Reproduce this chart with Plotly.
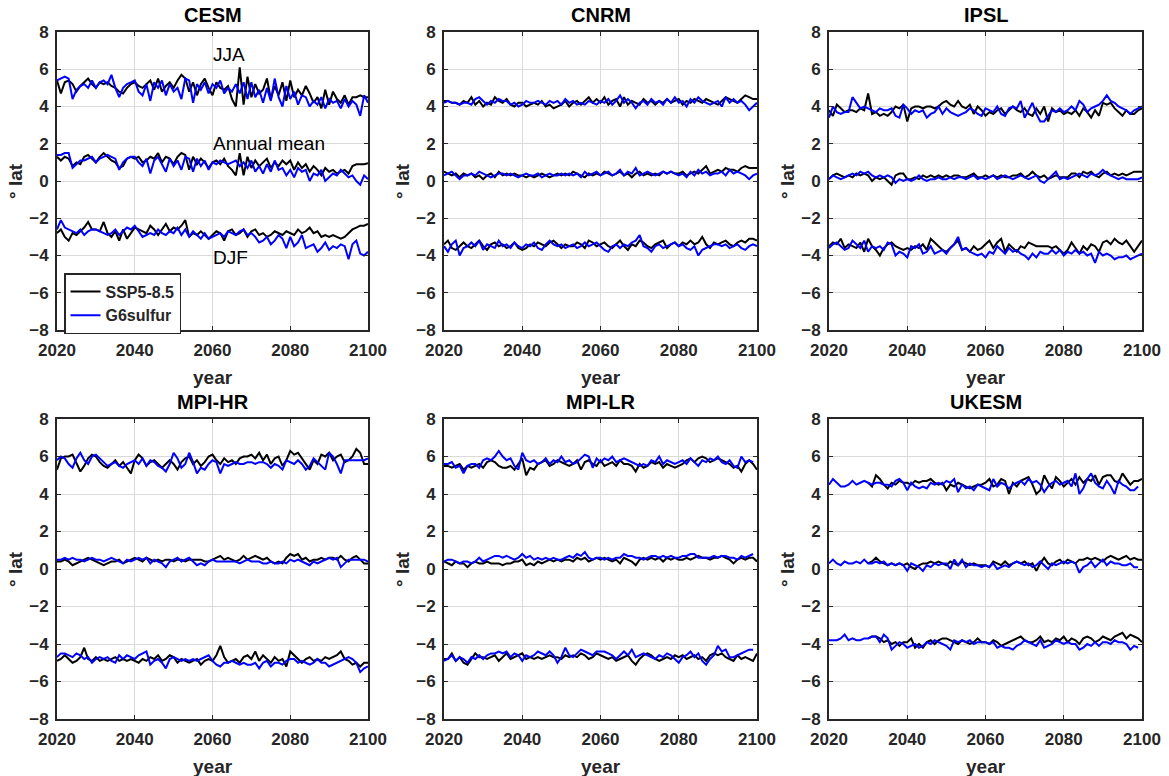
import plotly.graph_objects as go

# ---------------- data ----------------
years = list(range(2020, 2101))
years_ukesm_ssp = list(range(2030, 2101))
models = ["CESM", "CNRM", "IPSL", "MPI-HR", "MPI-LR", "UKESM"]
scenario_names = ["SSP5-8.5", "G6sulfur"]
season_labels = ["JJA", "Annual mean", "DJF"]
xtick_vals = [2020, 2040, 2060, 2080, 2100]
ytick_vals = [-8, -6, -4, -2, 0, 2, 4, 6, 8]

# CESM
cesm_jja_ssp = [5.4, 4.7, 5.3, 5.4, 5.2, 4.8, 5.1, 5.3, 5.5, 5.2,
                5.0, 5.3, 5.2, 5.3, 5.1, 5.0, 4.8, 4.7, 5.0, 5.2,
                5.3, 5.1, 5.0, 5.2, 5.4, 4.9, 5.5, 4.8, 5.1, 5.3,
                5.0, 5.4, 5.7, 5.5, 4.8, 5.3, 4.6, 5.2, 5.5, 5.0,
                4.6, 5.3, 5.0, 4.9, 5.1, 4.4, 4.0, 6.1, 4.1, 5.6,
                4.5, 5.2, 4.7, 4.9, 5.5, 4.4, 5.1, 4.6, 5.3, 4.3,
                5.4, 4.5, 4.9, 4.6, 5.1, 4.7, 4.2, 4.5, 3.9, 4.9,
                4.1, 4.8, 4.4, 4.2, 4.6, 4.1, 4.5, 4.5, 4.6, 4.5, 4.5]
cesm_jja_g6 = [5.4, 5.5, 5.6, 5.5, 4.4, 4.9, 5.1, 5.2, 5.0, 5.4,
               5.0, 5.3, 5.4, 5.2, 5.7, 5.0, 4.5, 5.0, 5.2, 5.3,
               5.4, 4.8, 4.6, 5.2, 4.3, 5.3, 5.0, 5.4, 4.6, 5.2,
               4.8, 5.0, 4.4, 5.5, 5.4, 4.2, 5.2, 4.9, 5.3, 4.7,
               5.2, 5.0, 5.4, 4.7, 5.0, 4.8, 5.2, 4.7, 5.3, 4.4,
               5.3, 4.5, 4.9, 4.2, 5.0, 4.3, 5.5, 4.5, 4.0, 5.1,
               4.4, 4.8, 4.1, 4.6, 4.5, 4.0, 4.3, 4.1, 4.5, 3.9,
               4.4, 4.2, 4.3, 3.9, 4.4, 4.0, 4.3, 4.1, 3.5, 4.6, 4.2]
cesm_ann_ssp = [1.3, 1.1, 1.3, 1.2, 0.8, 1.0, 0.9, 1.3, 1.4, 1.2,
                1.0, 1.3, 1.5, 1.3, 1.1, 1.0, 0.7, 0.8, 1.2, 1.3,
                1.2, 1.3, 1.0, 1.1, 1.3, 1.2, 1.5, 1.0, 1.3, 1.2,
                0.9, 1.3, 1.5, 1.4, 0.6, 1.3, 0.9, 1.2, 1.0, 0.7,
                1.0, 1.1, 0.9, 1.2, 0.8, 0.6, 0.3, 1.5, 0.3, 1.3,
                0.7, 1.1, 0.8, 1.0, 1.2, 0.7, 1.0, 0.8, 1.1, 0.9,
                1.1, 0.6, 1.0, 0.7, 0.9, 0.5, 0.8, 0.6, 0.3, 0.7,
                0.5, 0.6, 0.4, 0.5, 0.6, 0.4, 0.8, 0.9, 0.9, 0.9, 0.95]
cesm_ann_g6 = [1.4, 1.4, 1.5, 1.5, 0.7, 0.9, 1.1, 1.1, 1.2, 1.3,
               1.0, 1.2, 1.3, 1.4, 1.3, 1.2, 0.6, 1.0, 1.2, 1.3,
               1.3, 1.0, 0.8, 1.2, 0.4, 1.1, 1.3, 0.9, 0.5, 1.2,
               0.8, 1.1, 0.6, 1.3, 1.2, 0.5, 1.2, 0.8, 1.1, 0.6,
               1.0, 0.9, 1.1, 1.0, 0.9, 1.0, 1.1, 0.8, 1.0, 0.7,
               1.1, 0.5, 0.8, 0.4, 0.9, 0.5, 1.1, 0.6, 0.7, 0.3,
               0.6, 0.2, 0.7, 0.5, 0.6, 0.0, 0.4, 0.3, 0.6, 0.0,
               0.2, 0.4, 0.3, 0.6, 0.4, 0.2, 0.3, 0.0, -0.2, 0.3, 0.1]
cesm_djf_ssp = [-2.8, -2.6, -3.0, -3.2, -2.8, -2.9, -2.7, -2.5, -2.2, -2.6,
                -2.6, -2.7, -2.2, -2.8, -3.0, -2.7, -3.2, -2.6, -3.1, -2.8,
                -2.5, -2.6, -2.7, -2.8, -2.4, -2.6, -2.9, -2.6, -2.3, -2.7,
                -2.5, -2.6, -2.4, -2.1, -3.0, -2.8, -2.9, -2.7, -2.9, -3.1,
                -2.9, -2.7, -2.8, -3.2, -2.7, -2.6, -2.9, -2.8, -2.6, -3.0,
                -2.7, -2.6, -2.9, -2.8, -3.0, -2.9, -2.7, -2.8, -2.9, -2.7,
                -2.8, -2.9, -2.6, -2.8, -2.7, -2.5, -2.8, -2.7, -3.0, -2.9,
                -3.0, -2.9, -3.0, -3.1, -3.0, -2.8, -2.6, -2.5, -2.4, -2.4, -2.3]
cesm_djf_g6 = [-2.6, -2.1, -2.5, -2.6, -2.7, -2.8, -2.6, -2.9, -2.7, -2.6,
               -2.6, -2.7, -2.8, -2.9, -2.8, -2.6, -2.9, -2.7, -2.5, -2.6,
               -2.4, -2.7, -3.0, -2.9, -2.8, -2.9, -2.6, -2.8, -2.9, -2.7,
               -2.8, -2.5, -2.9, -2.6, -3.0, -2.7, -2.9, -3.1, -2.8, -3.1,
               -3.0, -2.9, -2.8, -3.0, -2.7, -2.8, -2.9, -2.7, -2.6, -2.9,
               -2.8, -3.0, -3.3, -3.2, -3.0, -3.4, -3.2, -2.9, -3.1, -3.6,
               -3.0, -3.5, -3.3, -2.9, -3.6, -3.5, -3.4, -3.8, -3.6, -3.3,
               -3.7, -3.5, -3.6, -3.4, -3.5, -4.2, -3.4, -3.2, -3.9, -4.0, -3.8]

# CNRM
cnrm_jja_ssp = [4.3, 4.3, 4.2, 4.2, 4.1, 4.3, 4.2, 4.5, 4.1, 4.3,
                4.0, 4.2, 4.1, 4.5, 4.3, 4.2, 4.4, 4.1, 4.0, 4.2,
                4.2, 4.0, 4.1, 4.2, 4.1, 4.3, 4.0, 4.1, 3.9, 4.0,
                4.1, 4.3, 4.0, 4.2, 4.3, 4.1, 4.3, 4.5, 4.2, 4.4,
                4.2, 4.5, 4.1, 4.3, 4.4, 4.0, 4.5, 4.1, 4.3, 4.2,
                4.1, 4.4, 4.2, 4.3, 4.1, 4.3, 4.2, 4.4, 4.2, 4.3,
                4.4, 4.1, 4.3, 4.2, 4.4, 4.3, 4.2, 4.4, 4.3, 4.2,
                4.1, 4.3, 4.5, 4.4, 4.3, 4.2, 4.4, 4.6, 4.5, 4.4, 4.4]
cnrm_jja_g6 = [4.2, 4.3, 4.2, 4.2, 4.1, 4.2, 4.2, 4.1, 4.4, 4.5,
               4.3, 4.1, 4.3, 4.2, 4.4, 4.3, 4.3, 4.1, 4.2, 4.0,
               4.1, 4.3, 4.2, 4.2, 4.3, 4.2, 4.1, 4.3, 4.2, 4.3,
               4.1, 4.4, 4.2, 4.3, 4.1, 4.2, 4.1, 4.3, 4.2, 4.1,
               4.3, 4.2, 4.4, 4.1, 4.3, 4.6, 4.2, 4.4, 4.2, 3.9,
               4.2, 4.3, 4.1, 4.4, 4.2, 4.3, 4.1, 4.4, 4.2, 4.5,
               4.2, 4.3, 4.0, 4.4, 4.2, 4.5, 4.3, 4.2, 4.1, 4.2,
               4.3, 4.0, 4.5, 4.2, 4.4, 4.2, 4.3, 4.1, 3.8, 4.0, 4.2]
cnrm_ann_ssp = [0.5, 0.4, 0.3, 0.4, 0.2, 0.4, 0.3, 0.4, 0.2, 0.3,
                0.1, 0.3, 0.4, 0.2, 0.5, 0.3, 0.4, 0.3, 0.4, 0.3,
                0.3, 0.2, 0.3, 0.2, 0.3, 0.4, 0.3, 0.2, 0.3, 0.4,
                0.3, 0.4, 0.3, 0.5, 0.4, 0.3, 0.2, 0.4, 0.3, 0.4,
                0.3, 0.5, 0.4, 0.3, 0.4, 0.5, 0.3, 0.4, 0.2, 0.4,
                0.5, 0.3, 0.4, 0.3, 0.4, 0.3, 0.5, 0.4, 0.5, 0.4,
                0.4, 0.5, 0.3, 0.4, 0.5, 0.4, 0.6, 0.8, 0.4, 0.5,
                0.6, 0.5, 0.7, 0.6, 0.6, 0.5, 0.7, 0.8, 0.7, 0.7, 0.7]
cnrm_ann_g6 = [0.3, 0.4, 0.5, 0.3, 0.1, 0.3, 0.3, 0.4, 0.3, 0.5,
               0.4, 0.3, 0.2, 0.3, 0.4, 0.4, 0.3, 0.4, 0.3, 0.2,
               0.3, 0.4, 0.3, 0.3, 0.4, 0.2, 0.3, 0.4, 0.3, 0.3,
               0.4, 0.3, 0.4, 0.3, 0.4, 0.2, 0.5, 0.3, 0.4, 0.5,
               0.3, 0.4, 0.5, 0.3, 0.4, 0.6, 0.3, 0.5, 0.4, 0.7,
               0.3, 0.4, 0.5, 0.4, 0.3, 0.4, 0.5, 0.4, 0.5, 0.4,
               0.3, 0.4, 0.2, 0.5, 0.3, 0.6, 0.4, 0.5, 0.3, 0.4,
               0.4, 0.5, 0.3, 0.6, 0.4, 0.5, 0.4, 0.3, 0.1, 0.3, 0.4]
cnrm_djf_ssp = [-3.4, -3.2, -3.6, -3.7, -3.5, -3.3, -3.5, -3.6, -3.4, -3.2,
                -3.5, -3.7, -3.4, -3.3, -3.5, -3.4, -3.6, -3.5, -3.3, -3.6,
                -3.7, -3.6, -3.4, -3.5, -3.3, -3.4, -3.5, -3.3, -3.2, -3.4,
                -3.6, -3.4, -3.5, -3.5, -3.3, -3.4, -3.6, -3.2, -3.3, -3.5,
                -3.4, -3.3, -3.5, -3.6, -3.4, -3.2, -3.5, -3.7, -3.4, -3.5,
                -3.2, -3.3, -3.5, -3.6, -3.4, -3.3, -3.2, -3.6, -3.4, -3.3,
                -3.5, -3.3, -3.4, -3.2, -3.4, -3.3, -3.0, -3.4, -3.6, -3.3,
                -3.4, -3.3, -3.2, -3.4, -3.5, -3.3, -3.2, -3.3, -3.1, -3.1, -3.2]
cnrm_djf_g6 = [-3.5, -3.8, -3.4, -3.2, -4.0, -3.6, -3.5, -3.3, -3.5, -3.2,
               -3.7, -3.4, -3.5, -3.6, -3.2, -3.5, -3.4, -3.6, -3.3, -3.5,
               -3.6, -3.4, -3.5, -3.3, -3.6, -3.7, -3.4, -3.2, -3.4, -3.5,
               -3.4, -3.6, -3.5, -3.4, -3.6, -3.5, -3.3, -3.5, -3.4, -3.3,
               -3.5, -3.7, -3.8, -3.5, -3.4, -3.6, -3.4, -3.5, -3.3, -3.2,
               -2.9, -3.5, -3.6, -3.8, -3.5, -3.4, -3.6, -3.5, -3.4, -3.3,
               -3.5, -3.4, -3.6, -3.7, -3.5, -4.0, -3.7, -3.6, -3.5, -3.4,
               -3.4, -3.5, -3.4, -3.6, -3.5, -3.4, -3.6, -3.7, -3.5, -3.4, -3.5]

# IPSL
ipsl_jja_ssp = [3.8, 3.5, 4.1, 3.9, 3.7, 3.8, 3.8, 3.7, 3.9, 3.8,
                4.7, 3.6, 3.7, 3.5, 3.6, 3.5, 3.7, 4.0, 3.9, 4.1,
                3.2, 3.9, 4.0, 4.0, 3.9, 4.0, 4.0, 3.9, 4.0, 4.2,
                4.3, 4.1, 4.0, 4.3, 4.0, 3.9, 4.1, 3.6, 4.0, 3.8,
                3.5, 3.7, 3.6, 3.8, 3.9, 3.6, 3.8, 4.0, 3.8, 3.7,
                3.9, 3.6, 3.5, 3.9, 3.6, 4.0, 3.2, 3.9, 3.7, 3.8,
                3.6, 3.7, 3.6, 3.8, 3.5, 3.9, 3.7, 3.4, 3.8, 3.5,
                4.2, 4.1, 4.2, 3.9, 3.7, 3.5, 3.8, 3.6, 3.6, 3.8, 3.9]
ipsl_jja_g6 = [3.4, 4.0, 3.7, 3.6, 3.7, 3.7, 4.5, 4.2, 3.9, 4.0,
               3.9, 3.8, 3.7, 3.9, 3.8, 3.8, 3.9, 3.5, 3.4, 4.1,
               3.9, 3.6, 3.8, 3.7, 3.8, 3.4, 3.6, 3.7, 4.0, 3.6,
               3.9, 3.7, 3.6, 3.5, 3.6, 3.7, 3.9, 3.8, 3.6, 3.5,
               3.9, 3.8, 3.7, 4.0, 3.6, 3.5, 3.9, 4.0, 3.9, 4.3,
               3.4, 3.8, 4.2, 3.6, 3.2, 3.2, 3.5, 3.8, 3.7, 3.9,
               3.7, 3.8, 4.0, 3.8, 4.3, 4.1, 3.7, 3.9, 4.0, 4.1,
               4.3, 4.6, 4.3, 4.2, 4.0, 3.9, 3.8, 3.6, 3.8, 3.9, 4.0]
ipsl_ann_ssp = [0.1, 0.3, 0.4, 0.3, 0.2, 0.3, 0.2, 0.4, 0.3, 0.4,
                0.3, 0.0, 0.2, 0.1, 0.2, 0.0, -0.2, 0.3, 0.4, 0.4,
                0.1, 0.1, 0.2, 0.1, 0.3, 0.2, 0.3, 0.2, 0.3, 0.2,
                0.3, 0.2, 0.3, 0.3, 0.2, 0.2, 0.3, 0.4, 0.2, 0.2,
                0.3, 0.2, 0.3, 0.2, 0.3, 0.2, 0.2, 0.3, 0.3, 0.4,
                0.2, 0.3, 0.5, 0.3, 0.2, 0.3, 0.1, 0.2, 0.3, 0.2,
                0.2, 0.2, 0.4, 0.4, 0.2, 0.5, 0.4, 0.5, 0.3, 0.2,
                0.4, 0.5, 0.3, 0.4, 0.3, 0.4, 0.3, 0.4, 0.5, 0.5, 0.5]
ipsl_ann_g6 = [0.1, 0.3, 0.2, 0.1, 0.2, 0.3, 0.4, 0.3, 0.5, 0.4,
               0.5, 0.3, 0.2, 0.3, 0.2, 0.3, 0.2, -0.1, 0.1, 0.0,
               0.1, 0.0, 0.1, 0.3, 0.1, 0.0, 0.1, 0.1, 0.2, 0.1,
               0.1, 0.2, 0.1, 0.2, 0.2, 0.1, 0.2, 0.3, 0.1, 0.2,
               0.1, 0.2, 0.3, 0.1, 0.2, 0.3, 0.2, 0.1, 0.2, 0.3,
               0.2, 0.1, 0.2, 0.3, 0.0, -0.1, 0.1, 0.3, 0.5, 0.1,
               0.2, 0.1, 0.2, 0.3, 0.4, 0.3, 0.2, 0.4, 0.3, 0.4,
               0.6, 0.4, 0.3, 0.2, 0.1, 0.2, 0.1, 0.1, 0.1, 0.1, 0.2]
ipsl_djf_ssp = [-3.5, -3.3, -3.4, -3.1, -3.6, -3.4, -3.5, -3.6, -3.3, -3.8,
                -3.1, -3.5, -3.7, -4.0, -3.6, -3.4, -3.3, -3.5, -3.6, -3.7,
                -3.6, -3.7, -3.5, -3.6, -3.4, -3.7, -3.1, -3.3, -3.5, -3.7,
                -3.8, -3.6, -3.4, -3.2, -3.7, -3.6, -3.8, -3.5, -3.7, -3.6,
                -3.4, -3.2, -3.6, -3.3, -3.1, -3.8, -3.4, -3.6, -3.8, -3.5,
                -3.6, -3.3, -3.4, -3.5, -3.5, -3.5, -3.5, -3.6, -3.5, -3.7,
                -3.9, -3.7, -3.3, -3.6, -3.9, -3.5, -3.7, -3.4, -3.5, -3.8,
                -3.3, -3.2, -3.4, -3.1, -3.3, -3.4, -3.2, -3.5, -3.8, -3.5, -3.2]
ipsl_djf_g6 = [-3.6, -3.4, -3.3, -3.5, -3.7, -3.6, -3.2, -3.4, -3.6, -3.2,
               -3.8, -3.5, -3.6, -3.5, -3.7, -3.3, -3.4, -4.0, -3.8, -3.9,
               -4.1, -3.5, -3.6, -3.4, -3.9, -3.8, -3.5, -3.9, -3.8, -3.7,
               -3.9, -3.6, -3.4, -3.0, -3.7, -3.6, -3.8, -3.9, -4.0, -3.9,
               -4.1, -3.8, -3.9, -3.5, -3.7, -3.9, -3.6, -3.8, -3.7, -3.9,
               -4.0, -4.2, -3.9, -4.1, -3.8, -3.9, -3.9, -3.7, -3.9, -3.7,
               -4.0, -3.8, -3.9, -3.7, -3.9, -3.8, -4.0, -3.9, -4.4, -3.8,
               -4.0, -3.9, -4.0, -4.2, -4.1, -4.1, -4.0, -4.2, -4.1, -4.0, -3.9]

# MPI-HR
mpihr_jja_ssp = [5.3, 5.9, 6.0, 6.0, 6.1, 5.6, 5.2, 5.5, 5.9, 6.1,
                 6.0, 5.7, 5.5, 5.4, 5.6, 5.8, 5.5, 5.7, 5.4, 5.1,
                 5.8, 6.1, 5.9, 5.5, 5.7, 5.8, 5.6, 5.4, 5.6, 5.8,
                 5.6, 5.3, 5.7, 5.9, 6.0, 5.6, 5.8, 5.5, 5.7, 6.0,
                 6.1, 5.8, 5.6, 5.9, 5.7, 5.8, 5.6, 5.9, 6.0, 6.0,
                 6.1, 5.9, 6.2, 5.8, 6.1, 5.6, 5.9, 6.0, 5.5, 5.8,
                 6.3, 6.1, 6.2, 5.9, 5.6, 5.3, 5.8, 5.6, 6.1, 6.0,
                 6.2, 5.8, 6.0, 6.1, 5.7, 5.8, 6.0, 6.4, 6.2, 5.6, 5.6]
mpihr_jja_g6 = [5.8, 6.0, 5.9, 5.6, 5.4, 5.9, 6.2, 5.8, 5.6, 6.0,
                6.1, 5.9, 5.7, 5.5, 5.6, 5.7, 5.5, 5.4, 5.6, 5.7,
                5.8, 5.6, 5.9, 5.5, 5.8, 5.7, 5.5, 5.4, 5.2, 5.6,
                6.2, 5.9, 5.4, 5.6, 6.2, 5.7, 5.1, 5.4, 5.3, 5.6,
                5.8, 5.7, 5.1, 5.6, 5.5, 5.6, 5.7, 5.6, 5.6, 5.7,
                5.7, 5.6, 5.7, 5.7, 5.6, 5.4, 5.6, 5.5, 5.3, 5.8,
                5.7, 5.6, 5.8, 5.6, 5.3, 5.5, 5.9, 5.7, 5.5, 5.3,
                6.2, 6.0, 5.6, 5.1, 5.8, 5.8, 5.8, 5.8, 5.8, 5.8, 5.9]
mpihr_ann_ssp = [0.4, 0.4, 0.5, 0.4, 0.2, 0.3, 0.4, 0.5, 0.6, 0.5,
                 0.4, 0.3, 0.2, 0.3, 0.4, 0.4, 0.5, 0.3, 0.4, 0.5,
                 0.6, 0.5, 0.4, 0.6, 0.5, 0.4, 0.5, 0.4, 0.5, 0.5,
                 0.4, 0.5, 0.5, 0.4, 0.5, 0.5, 0.5, 0.5, 0.4, 0.4,
                 0.5, 0.6, 0.7, 0.5, 0.6, 0.5, 0.4, 0.5, 0.7, 0.5,
                 0.6, 0.7, 0.6, 0.5, 0.6, 0.4, 0.3, 0.4, 0.3, 0.6,
                 0.8, 0.7, 0.8, 0.5, 0.6, 0.4, 0.5, 0.5, 0.6, 0.5,
                 0.6, 0.6, 0.5, 0.7, 0.5, 0.4, 0.6, 0.7, 0.5, 0.3, 0.3]
mpihr_ann_g6 = [0.5, 0.5, 0.6, 0.5, 0.6, 0.5, 0.5, 0.4, 0.5, 0.6,
                0.5, 0.5, 0.4, 0.5, 0.6, 0.5, 0.4, 0.3, 0.5, 0.4,
                0.5, 0.6, 0.5, 0.6, 0.3, 0.5, 0.4, 0.3, 0.1, 0.4,
                0.5, 0.6, 0.4, 0.5, 0.6, 0.4, 0.2, 0.3, 0.2, 0.4,
                0.5, 0.4, 0.4, 0.4, 0.4, 0.4, 0.4, 0.3, 0.4, 0.5,
                0.4, 0.4, 0.4, 0.3, 0.3, 0.4, 0.3, 0.3, 0.4, 0.3,
                0.5, 0.4, 0.5, 0.4, 0.3, 0.2, 0.4, 0.3, 0.4, 0.5,
                0.6, 0.5, 0.6, 0.1, 0.3, 0.5, 0.5, 0.5, 0.5, 0.5, 0.4]
mpihr_djf_ssp = [-4.9, -4.8, -4.6, -4.8, -5.0, -4.9, -4.7, -4.2, -4.8, -4.9,
                 -4.7, -4.9, -4.8, -4.9, -4.8, -4.7, -4.9, -4.8, -4.9, -4.8,
                 -4.9, -5.0, -4.8, -4.9, -4.7, -4.8, -4.6, -4.9, -4.8, -4.6,
                 -4.7, -5.0, -4.8, -4.9, -5.0, -4.9, -4.8, -5.1, -4.9, -4.8,
                 -4.9, -4.6, -4.1, -4.7, -5.0, -4.9, -4.8, -5.0, -4.7, -4.6,
                 -4.8, -4.4, -4.9, -4.6, -4.8, -5.0, -4.7, -4.9, -4.8, -5.2,
                 -4.4, -4.6, -4.8, -5.0, -4.8, -4.7, -4.9, -4.8, -4.9, -4.7,
                 -4.8, -4.7, -4.6, -4.4, -4.8, -4.9, -5.1, -5.0, -5.2, -5.0, -5.0]
mpihr_djf_g6 = [-4.7, -4.5, -4.5, -4.6, -4.7, -4.5, -4.6, -4.8, -4.7, -5.0,
                -4.8, -4.7, -4.8, -4.7, -4.9, -5.0, -4.6, -4.8, -4.6, -4.7,
                -4.8, -4.6, -4.5, -4.4, -5.1, -4.9, -4.8, -5.0, -5.3, -4.8,
                -4.7, -4.8, -4.9, -4.8, -4.9, -4.8, -4.9, -4.8, -4.7, -4.6,
                -4.9, -5.1, -5.2, -5.0, -5.0, -4.9, -5.0, -5.1, -5.0, -5.1,
                -5.1, -5.0, -5.3, -5.0, -4.9, -5.2, -5.0, -5.0, -5.1, -4.9,
                -4.8, -4.8, -5.0, -4.9, -5.0, -5.1, -5.0, -4.8, -5.0, -5.0,
                -5.2, -5.1, -5.0, -4.9, -4.8, -4.7, -4.8, -5.0, -5.5, -5.3, -5.2]

# MPI-LR
mpilr_jja_ssp = [5.5, 5.5, 5.4, 5.5, 5.6, 5.3, 5.5, 5.4, 5.5, 5.6,
                 5.4, 5.7, 5.8, 5.7, 5.5, 5.4, 5.4, 5.5, 5.3, 5.6,
                 5.9, 5.0, 5.4, 5.3, 5.6, 5.7, 5.8, 5.5, 5.6, 5.8,
                 5.7, 5.6, 5.5, 5.6, 5.8, 5.3, 5.7, 5.8, 5.6, 5.5,
                 5.8, 5.5, 5.6, 5.7, 5.5, 5.8, 5.6, 5.6, 5.5, 5.2,
                 5.6, 5.4, 5.5, 5.7, 5.6, 5.7, 5.4, 5.6, 5.5, 5.4,
                 5.5, 5.6, 5.8, 5.9, 5.7, 5.9, 6.0, 5.9, 5.7, 5.8,
                 5.9, 5.8, 5.7, 5.6, 5.4, 5.5, 5.2, 5.6, 5.8, 5.6, 5.3]
mpilr_jja_g6 = [5.6, 5.6, 5.7, 5.4, 5.5, 5.1, 5.5, 5.6, 5.6, 5.4,
                5.8, 5.9, 5.8, 6.0, 6.3, 6.0, 5.8, 5.9, 5.5, 5.3,
                6.2, 5.8, 5.7, 5.8, 5.6, 5.7, 5.9, 5.6, 5.8, 5.7,
                6.0, 5.7, 5.8, 5.6, 5.7, 5.9, 6.1, 6.0, 5.4, 5.9,
                5.7, 5.9, 5.8, 6.0, 5.7, 5.8, 5.9, 5.8, 5.7, 5.6,
                5.5, 5.6, 5.5, 5.8, 5.7, 6.0, 5.6, 5.8, 5.7, 5.6,
                5.7, 5.8, 5.6, 5.9, 5.7, 5.5, 5.8, 5.7, 5.9, 5.8,
                6.0, 5.7, 5.6, 5.8, 5.5, 5.4, 6.0, 5.7, 5.8, 5.7]
mpilr_ann_ssp = [0.4, 0.3, 0.2, 0.4, 0.3, 0.3, 0.1, 0.3, 0.4, 0.3,
                 0.3, 0.4, 0.3, 0.3, 0.3, 0.2, 0.3, 0.3, 0.4, 0.4,
                 0.5, 0.2, 0.3, 0.2, 0.4, 0.3, 0.4, 0.5, 0.4, 0.5,
                 0.4, 0.5, 0.5, 0.4, 0.6, 0.5, 0.6, 0.4, 0.5, 0.6,
                 0.5, 0.6, 0.5, 0.4, 0.5, 0.3, 0.6, 0.5, 0.4, 0.2,
                 0.5, 0.6, 0.5, 0.6, 0.5, 0.6, 0.4, 0.6, 0.5, 0.6,
                 0.5, 0.5, 0.6, 0.5, 0.6, 0.7, 0.6, 0.6, 0.5, 0.6,
                 0.6, 0.7, 0.6, 0.5, 0.3, 0.5, 0.6, 0.5, 0.6, 0.6, 0.4]
mpilr_ann_g6 = [0.4, 0.5, 0.5, 0.4, 0.3, 0.4, 0.4, 0.3, 0.4, 0.6,
                0.4, 0.5, 0.6, 0.7, 0.7, 0.6, 0.7, 0.6, 0.5, 0.6,
                0.8, 0.6, 0.7, 0.5, 0.6, 0.5, 0.6, 0.5, 0.6, 0.5,
                0.5, 0.6, 0.7, 0.6, 0.8, 0.7, 0.9, 0.6, 0.5, 0.6,
                0.6, 0.5, 0.6, 0.5, 0.6, 0.6, 0.8, 0.7, 0.7, 0.6,
                0.6, 0.5, 0.6, 0.7, 0.7, 0.6, 0.7, 0.6, 0.7, 0.6,
                0.6, 0.7, 0.7, 0.8, 0.8, 0.6, 0.6, 0.6, 0.6, 0.7,
                0.6, 0.7, 0.7, 0.6, 0.6, 0.5, 0.7, 0.6, 0.7, 0.8]
mpilr_djf_ssp = [-4.8, -4.8, -4.5, -4.9, -4.7, -5.0, -5.1, -4.8, -4.5, -4.7,
                 -4.7, -4.8, -4.7, -4.6, -4.9, -4.7, -4.5, -4.8, -4.7, -4.6,
                 -4.5, -4.8, -4.7, -4.8, -4.7, -4.8, -4.7, -4.6, -4.7, -4.7,
                 -4.8, -4.6, -4.7, -4.6, -4.7, -4.5, -4.6, -4.8, -4.7, -4.5,
                 -4.6, -4.7, -4.8, -4.7, -4.9, -4.8, -4.7, -4.6, -4.9, -5.1,
                 -4.8, -4.6, -4.5, -4.6, -4.8, -4.9, -4.8, -4.7, -4.8, -4.6,
                 -4.7, -4.6, -4.8, -4.7, -4.6, -4.8, -4.7, -4.9, -4.6, -4.5,
                 -4.6, -4.5, -4.7, -4.8, -4.9, -4.6, -4.8, -4.7, -4.8, -4.9, -4.5]
mpilr_djf_g6 = [-4.9, -4.8, -4.6, -4.9, -4.7, -4.8, -5.0, -4.7, -4.8, -4.6,
                -4.8, -4.6, -4.5, -4.5, -4.4, -4.5, -4.4, -4.7, -4.5, -4.6,
                -4.9, -4.6, -4.7, -4.6, -4.4, -4.5, -4.6, -4.4, -4.6, -5.0,
                -4.7, -4.2, -4.6, -4.7, -4.5, -4.3, -4.4, -4.5, -4.6, -4.4,
                -4.4, -4.4, -4.5, -4.6, -4.8, -4.6, -4.4, -4.6, -4.3, -4.7,
                -4.6, -4.5, -4.6, -4.7, -4.8, -4.6, -4.7, -4.5, -4.6, -4.8,
                -5.0, -4.7, -4.6, -4.4, -4.7, -4.5, -4.9, -5.1, -4.8, -4.6,
                -4.1, -4.4, -4.3, -4.7, -4.7, -4.6, -4.5, -4.4, -4.3, -4.3]

# UKESM (SSP5-8.5 drawn from 2030)
ukesm_jja_ssp = [4.6, 4.4, 5.0, 4.8, 4.5, 4.3, 4.6, 4.5, 4.7, 4.6,
                 4.6, 4.5, 4.7, 4.6, 4.7, 4.7, 4.8, 4.6, 4.5, 4.6,
                 4.2, 4.5, 4.4, 4.6, 4.5, 4.4, 4.3, 4.4, 4.5, 4.5,
                 4.6, 4.8, 4.4, 4.5, 4.8, 4.7, 4.0, 4.6, 4.4, 4.7,
                 4.8, 4.9, 4.5, 4.0, 4.2, 5.0, 4.6, 4.3, 4.9, 4.7,
                 4.4, 4.6, 4.8, 4.5, 4.9, 4.6, 4.8, 4.7, 5.0, 4.5,
                 4.9, 5.0, 5.0, 4.7, 4.6, 5.1, 4.8, 4.5, 4.7, 4.7, 4.8]
ukesm_jja_g6 = [4.5, 4.8, 4.6, 4.4, 4.4, 4.5, 4.7, 4.5, 4.6, 4.7,
                4.6, 4.5, 4.6, 4.6, 4.5, 4.5, 4.4, 4.7, 4.8, 4.6,
                4.2, 4.6, 4.4, 4.3, 4.4, 4.3, 4.6, 4.5, 4.6, 4.5,
                4.7, 4.6, 4.8, 4.1, 4.5, 4.3, 4.4, 4.2, 4.5, 4.4,
                4.3, 4.2, 4.8, 4.4, 4.6, 4.5, 4.3, 4.5, 4.6, 4.7,
                4.5, 4.8, 4.6, 4.7, 4.5, 4.1, 4.4, 4.6, 4.7, 4.5,
                4.6, 4.7, 4.4, 5.1, 4.0, 4.3, 4.8, 5.1, 4.6, 4.4,
                4.3, 4.7, 4.4, 4.0, 4.7, 4.5, 4.4, 4.2, 4.2, 4.4]
ukesm_ann_ssp = [0.3, 0.4, 0.6, 0.4, 0.3, 0.2, 0.3, 0.2, 0.3, 0.2,
                 0.3, 0.1, 0.0, 0.2, 0.3, 0.3, 0.4, 0.3, 0.4, 0.3,
                 0.2, 0.4, 0.3, 0.2, 0.4, 0.3, 0.2, 0.3, 0.2, 0.2,
                 0.2, 0.1, 0.4, 0.3, 0.2, 0.4, 0.2, 0.3, 0.4, 0.3,
                 0.4, 0.2, 0.3, -0.1, 0.3, 0.6, 0.3, 0.2, 0.4, 0.5,
                 0.3, 0.5, 0.4, 0.3, 0.5, 0.5, 0.6, 0.5, 0.6, 0.5,
                 0.4, 0.6, 0.7, 0.6, 0.5, 0.6, 0.7, 0.5, 0.6, 0.5, 0.5]
ukesm_ann_g6 = [0.3, 0.5, 0.3, 0.2, 0.4, 0.3, 0.3, 0.4, 0.3, 0.5,
                0.3, 0.3, 0.4, 0.3, 0.4, 0.2, 0.3, 0.2, 0.3, 0.2,
                -0.1, 0.3, 0.2, 0.1, -0.1, 0.2, 0.1, 0.3, 0.2, 0.3,
                0.3, 0.0, 0.5, 0.2, 0.5, 0.1, 0.3, 0.2, 0.2, 0.1,
                0.2, 0.1, 0.3, 0.0, 0.1, 0.2, 0.1, 0.3, 0.4, 0.3,
                0.2, 0.3, 0.1, 0.2, 0.4, 0.2, 0.0, 0.3, 0.2, 0.3,
                0.4, 0.3, 0.4, 0.3, -0.2, 0.1, 0.2, 0.4, 0.1, 0.3,
                0.5, 0.2, 0.4, 0.3, 0.3, 0.2, 0.2, 0.3, 0.1, 0.1]
ukesm_djf_ssp = [-3.7, -3.6, -3.6, -3.7, -3.9, -3.8, -4.0, -3.9, -4.1, -3.9,
                 -3.9, -3.7, -4.2, -4.0, -4.2, -3.9, -3.8, -4.0, -3.8, -3.7,
                 -3.7, -3.8, -3.9, -4.0, -3.8, -3.9, -4.0, -3.9, -3.7, -3.9,
                 -3.9, -4.0, -3.8, -3.9, -4.1, -4.0, -3.9, -3.8, -3.7, -3.6,
                 -3.8, -3.9, -3.9, -3.8, -3.6, -3.9, -3.8, -3.9, -3.7, -3.8,
                 -3.6, -3.9, -3.7, -3.8, -4.0, -3.7, -3.6, -3.7, -3.9, -3.8,
                 -3.6, -3.7, -3.8, -3.6, -3.5, -3.4, -3.7, -3.5, -3.6, -3.7, -3.9]
ukesm_djf_g6 = [-3.8, -3.8, -3.8, -3.7, -3.5, -3.8, -3.7, -3.8, -3.8, -3.7,
                -3.7, -3.6, -3.6, -3.9, -3.5, -3.7, -4.3, -4.1, -3.9, -4.0,
                -4.2, -4.1, -4.0, -4.2, -4.1, -3.9, -4.0, -3.8, -3.9, -4.0,
                -4.1, -4.3, -3.8, -3.9, -3.8, -3.9, -3.8, -4.0, -3.9, -3.9,
                -3.9, -4.0, -3.9, -4.2, -4.1, -4.2, -4.2, -4.3, -4.1, -4.0,
                -3.8, -3.9, -4.0, -4.1, -3.8, -4.2, -4.1, -4.0, -3.8, -3.9,
                -4.0, -3.9, -4.0, -4.0, -4.3, -4.2, -4.0, -4.1, -3.9, -4.1,
                -3.9, -3.9, -4.0, -3.8, -3.9, -3.9, -4.0, -4.3, -4.1, -4.2]

panel_series = [
    (years, [cesm_jja_ssp, cesm_ann_ssp, cesm_djf_ssp], [cesm_jja_g6, cesm_ann_g6, cesm_djf_g6]),
    (years, [cnrm_jja_ssp, cnrm_ann_ssp, cnrm_djf_ssp], [cnrm_jja_g6, cnrm_ann_g6, cnrm_djf_g6]),
    (years, [ipsl_jja_ssp, ipsl_ann_ssp, ipsl_djf_ssp], [ipsl_jja_g6, ipsl_ann_g6, ipsl_djf_g6]),
    (years, [mpihr_jja_ssp, mpihr_ann_ssp, mpihr_djf_ssp], [mpihr_jja_g6, mpihr_ann_g6, mpihr_djf_g6]),
    (years, [mpilr_jja_ssp, mpilr_ann_ssp, mpilr_djf_ssp], [mpilr_jja_g6, mpilr_ann_g6, mpilr_djf_g6]),
    (years_ukesm_ssp, [ukesm_jja_ssp, ukesm_ann_ssp, ukesm_djf_ssp], [ukesm_jja_g6, ukesm_ann_g6, ukesm_djf_g6]),
]

# ---------------- figure ----------------
W, H = 1169, 776
FONT = "Liberation Sans, Arial, Helvetica, sans-serif"
AX = "#262626"
col_px = [(57, 368), (444, 757), (829, 1142)]
row_px = [(32, 330), (419, 719)]

fig = go.Figure()
layout = dict(
    width=W, height=H, margin=dict(l=0, r=0, t=0, b=0, autoexpand=False),
    paper_bgcolor="white", plot_bgcolor="white",
    font=dict(family=FONT, color=AX),
    showlegend=True,
    legend=dict(x=64 / W, y=1 - 273 / H, xanchor="left", yanchor="top",
                bgcolor="white", bordercolor=AX, borderwidth=1.5,
                font=dict(family=FONT, size=16, color=AX, weight="bold"),
                itemwidth=30, tracegroupgap=0),
)
annotations = []
colors = ["#000000", "#0000ff"]

for i, model in enumerate(models):
    r, c = divmod(i, 3)
    n = i + 1
    xa = "xaxis" if n == 1 else f"xaxis{n}"
    ya = "yaxis" if n == 1 else f"yaxis{n}"
    xref = "x" if n == 1 else f"x{n}"
    yref = "y" if n == 1 else f"y{n}"
    x0, x1 = col_px[c]
    y0, y1 = row_px[r]
    common = dict(showgrid=True, gridcolor="#dadada", gridwidth=1,
                  showline=True, linecolor=AX, linewidth=1.8, mirror="ticks",
                  ticks="inside", ticklen=4, tickwidth=1, tickcolor=AX,
                  zeroline=False, fixedrange=True, automargin=False,
                  tickfont=dict(family=FONT, size=17, color=AX, weight="bold"))
    layout[xa] = dict(domain=[x0 / W, x1 / W], anchor=yref, range=[2020, 2100],
                      tickvals=xtick_vals, ticklabelstandoff=4, **common)
    layout[ya] = dict(domain=[1 - y1 / H, 1 - y0 / H], anchor=xref, range=[-8, 8],
                      tickvals=ytick_vals, ticklabelstandoff=3, **common)

    ssp_years, ssp_list, g6_list = panel_series[i]
    for k in range(3):
        fig.add_trace(go.Scatter(x=ssp_years[:len(ssp_list[k])], y=ssp_list[k], mode="lines",
                                 line=dict(color=colors[0], width=2),
                                 name=scenario_names[0], legendgroup="ssp",
                                 showlegend=(i == 0 and k == 0), xaxis=xref, yaxis=yref))
    for k in range(3):
        fig.add_trace(go.Scatter(x=years[:len(g6_list[k])], y=g6_list[k], mode="lines",
                                 line=dict(color=colors[1], width=2),
                                 name=scenario_names[1], legendgroup="g6",
                                 showlegend=(i == 0 and k == 0), xaxis=xref, yaxis=yref))

    # panel title
    annotations.append(dict(text=f"<b>{model}</b>", x=(x0 + x1) / 2 / W, y=1 - (y0 - 17) / H,
                            xref="paper", yref="paper", showarrow=False,
                            xanchor="center", yanchor="middle",
                            font=dict(family=FONT, size=20, color="#000000")))
    # x axis title
    annotations.append(dict(text="<b>year</b>", x=(x0 + x1) / 2 / W, y=1 - (y1 + 47) / H,
                            xref="paper", yref="paper", showarrow=False,
                            xanchor="center", yanchor="middle",
                            font=dict(family=FONT, size=19, color=AX)))
    # y axis title
    annotations.append(dict(text="<b>° lat</b>", x=(x0 - 42) / W, y=1 - (y0 + y1) / 2 / H,
                            xref="paper", yref="paper", showarrow=False, textangle=-90,
                            xanchor="center", yanchor="middle",
                            font=dict(family=FONT, size=19, color=AX)))

# season labels in the CESM panel
for label, yv in zip(season_labels, [6.8, 2.0, -4.1]):
    annotations.append(dict(text=label, x=2060, y=yv, xref="x", yref="y", showarrow=False,
                            xanchor="left", yanchor="middle", xshift=-2,
                            font=dict(family=FONT, size=19, color="#000000")))

layout["annotations"] = annotations
fig.update_layout(**layout)
fig.write_html("out.html")
